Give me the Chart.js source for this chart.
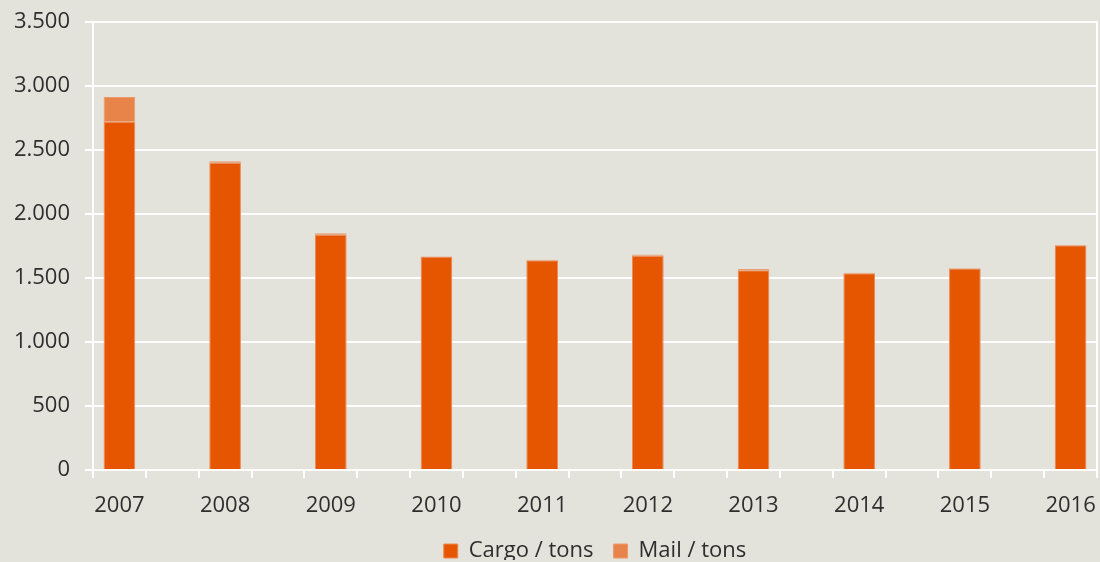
<!DOCTYPE html>
<html>
<head>
<meta charset="utf-8">
<script src="https://cdn.jsdelivr.net/npm/chart.js@4/dist/chart.umd.min.js"></script>
<style>
  html, body { margin: 0; padding: 0; background: #E4E3DB; }
  #wrap { width: 1100px; height: 562px; position: relative; }
</style>
</head>
<body>
<div id="wrap"><canvas id="c" width="1100" height="562"></canvas></div>
<script>
const years = ['2007', '2008', '2009', '2010', '2011', '2012', '2013', '2014', '2015', '2016'];
const cargoTons = [2720, 2400, 1838, 1664, 1638, 1673, 1561, 1538, 1575, 1755];
const mailTons = [195, 12, 11, 4, 4, 11, 10, 3, 3, 3];
const yTicks = [0, 500, 1000, 1500, 2000, 2500, 3000, 3500];

// interleave empty slots between years
const labels = [];
const cargoData = [];
const mailData = [];
years.forEach((y, i) => {
  labels.push(y); cargoData.push(cargoTons[i]); mailData.push(mailTons[i]);
  if (i < years.length - 1) { labels.push(''); cargoData.push(null); mailData.push(null); }
});

const FONT = '"Open Sans", sans-serif';
const TXT = '#2E2E2E';

const legendPlacePlugin = {
  id: 'legendPlace',
  beforeLayout(chart) {
    const lg = chart.legend;
    if (lg && !lg._patched) {
      const fit = lg.fit;
      lg.fit = function () { fit.call(this); this.height = 40; };
      lg._patched = true;
    }
  },
  afterLayout(chart) {
    const lg = chart.legend;
    if (!lg) return;
    // centre legend under the plot area
    const ca = chart.chartArea;
    const half = (lg.right - lg.left) / 2;
    const c = (ca.left + ca.right) / 2;
    lg.left = c - half; lg.right = c + half;
    lg.top -= 2; lg.bottom -= 2;
  }
};

new Chart(document.getElementById('c'), {
  type: 'bar',
  data: {
    labels: labels,
    datasets: [
      { label: 'Cargo / tons', data: cargoData, backgroundColor: '#E65500', borderColor: '#EC8A55', borderWidth: 1, borderSkipped: 'bottom' },
      { label: 'Mail / tons', data: mailData, backgroundColor: '#E8834A', borderColor: '#EC9A6B', borderWidth: 1, borderSkipped: 'bottom' }
    ]
  },
  plugins: [legendPlacePlugin],
  options: {
    responsive: false,
    animation: false,
    devicePixelRatio: 1,
    layout: { padding: { left: 0, right: 3, top: 22, bottom: 0 } },
    datasets: { bar: { categoryPercentage: 1, barPercentage: 0.6 } },
    scales: {
      x: {
        stacked: true,
        offset: true,
        grid: {
          offset: true,
          drawOnChartArea: false,
          color: '#FFFFFF',
          tickColor: '#FFFFFF',
          tickLength: 8,
          lineWidth: 2
        },
        border: { display: true, color: '#FFFFFF', width: 2 },
        ticks: {
          autoSkip: false,
          maxRotation: 0,
          color: TXT,
          font: { family: FONT, size: 22 },
          padding: 15
        },
        afterFit: s => { s.height = 52; s.paddingLeft = 0; s.paddingRight = 0; }
      },
      y: {
        stacked: true,
        min: 0,
        max: 3500,
        afterBuildTicks: s => { s.ticks = yTicks.map(v => ({ value: v })); },
        grid: { color: '#FFFFFF', lineWidth: 2, tickLength: 8, tickColor: '#FFFFFF' },
        border: { display: true, color: '#FFFFFF', width: 2 },
        ticks: {
          color: TXT,
          font: { family: FONT, size: 22 },
          padding: 15,
          callback: v => v.toLocaleString('de-DE')
        },
        afterFit: s => { s.width = 93; s.paddingTop = 0; s.paddingBottom = 0; }
      },
      yRight: {
        position: 'right',
        min: 0,
        max: 3500,
        grid: { drawOnChartArea: false, drawTicks: false },
        border: { display: true, color: '#FFFFFF', width: 2 },
        ticks: { display: false },
        afterFit: s => { s.width = 0; s.paddingTop = 0; s.paddingBottom = 0; }
      }
    },
    plugins: {
      legend: {
        position: 'bottom',
        labels: {
          color: TXT,
          font: { family: FONT, size: 22 },
          boxWidth: 14,
          boxHeight: 14,
          padding: 20,
          useBorderRadius: false
        }
      },
      tooltip: { enabled: false }
    }
  }
});
</script>
</body>
</html>
